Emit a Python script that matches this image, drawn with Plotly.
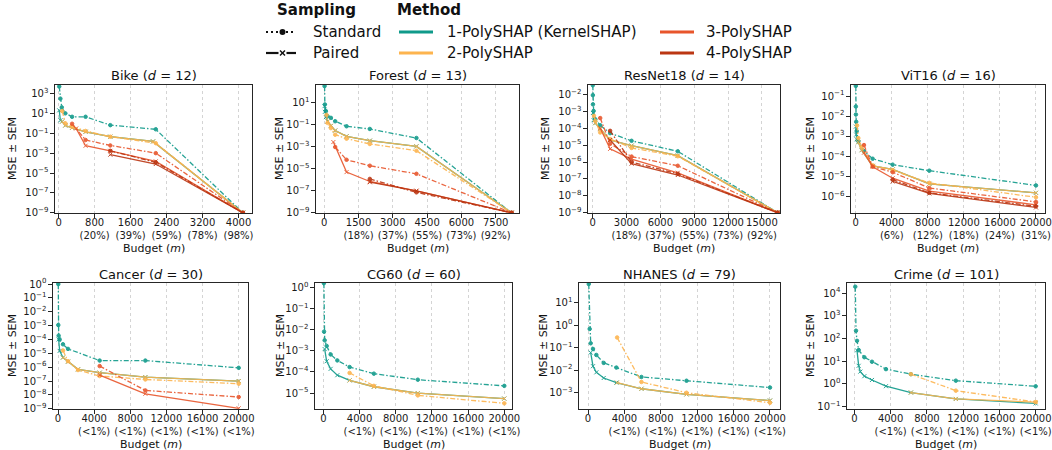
import plotly.graph_objects as go

# ---------------- data ----------------
# Bike (d=12)
bike_k1_std_x = [14, 40, 70, 150, 300, 600, 1150, 2160, 4096]
bike_k1_std_y = [5000, 300, 40, 10, 4.5, 4.5, 0.65, 0.25, 1e-9]
bike_k1_pair_x = [14, 40, 80, 150, 300, 600, 1150, 2100, 4096]
bike_k1_pair_y = [20, 2, 1.5, 0.6, 0.35, 0.14, 0.045, 0.015, 1e-9]
bike_k2_std_x = [80, 150, 300, 600, 1150, 2160, 4096]
bike_k2_std_y = [17, 1.0, 0.47, 0.17, 0.045, 0.01, 1e-9]
bike_k2_pair_x = [80, 150, 300, 600, 1150, 2100, 4096]
bike_k2_pair_y = [1.5, 0.6, 0.35, 0.14, 0.045, 0.015, 1e-9]
bike_k3_std_x = [300, 600, 1150, 2160, 4096]
bike_k3_std_y = [0.9, 0.021, 0.0059, 0.001, 1e-9]
bike_k3_pair_x = [390, 600, 1150, 2160, 4096]
bike_k3_pair_y = [0.3, 0.0055, 0.0017, 1.5e-4, 1e-9]
bike_k4_std_x = [1150, 2160, 4096]
bike_k4_std_y = [0.0017, 1.2e-4, 1e-9]
bike_k4_pair_x = [1150, 2160, 4096]
bike_k4_pair_y = [7e-4, 8e-5, 1e-9]

# Forest (d=13)
forest_k1_std_x = [15, 29, 73, 146, 291, 480, 976, 1995, 4033, 8192]
forest_k1_std_y = [330, 7.1, 1.74, 0.6, 0.43, 0.21, 0.074, 0.042, 0.0063, 1e-9]
forest_k1_pair_x = [15, 29, 73, 146, 291, 480, 976, 1995, 4033, 8192]
forest_k1_pair_y = [5, 1.5, 0.5, 0.2, 0.08, 0.03, 0.009, 0.0036, 0.0011, 1e-9]
forest_k2_std_x = [100, 146, 291, 480, 976, 1995, 4033, 8192]
forest_k2_std_y = [0.8, 0.15, 0.05, 0.0126, 0.0055, 0.0018, 0.00044, 1e-9]
forest_k2_pair_x = [146, 291, 480, 976, 1995, 4033, 8192]
forest_k2_pair_y = [0.2, 0.08, 0.03, 0.009, 0.0036, 0.0011, 1e-9]
forest_k3_std_x = [480, 976, 1995, 4033, 8192]
forest_k3_std_y = [9.5e-4, 6.6e-5, 1.9e-5, 3.5e-6, 1e-9]
forest_k3_pair_x = [400, 976, 1995, 4033, 8192]
forest_k3_pair_y = [2.7e-3, 5e-6, 7e-7, 1e-7, 1e-9]
forest_k4_std_x = [1995, 4033, 8192]
forest_k4_std_y = [1.2e-6, 7.2e-8, 1e-9]
forest_k4_pair_x = [1995, 4033, 8192]
forest_k4_pair_y = [6e-7, 1e-7, 1e-9]

# ResNet18 (d=14)
resnet_k1_std_x = [15, 20, 29, 88, 234, 672, 1550, 3450, 7544, 16384]
resnet_k1_std_y = [0.035, 0.0091, 0.0026, 0.00105, 3.4e-4, 1.5e-4, 5.1e-5, 1.8e-5, 4.3e-6, 1e-9]
resnet_k1_pair_x = [29, 88, 234, 672, 1550, 3450, 7544, 16384]
resnet_k1_pair_y = [8e-4, 3e-4, 2e-4, 8.9e-5, 2e-5, 9.3e-6, 2.4e-6, 1e-9]
resnet_k2_std_x = [120, 234, 672, 1550, 3450, 7544, 16384]
resnet_k2_std_y = [5.4e-4, 2.7e-4, 5.6e-5, 2.3e-5, 6.8e-6, 2.2e-6, 1e-9]
resnet_k2_pair_x = [234, 672, 1550, 3450, 7544, 16384]
resnet_k2_pair_y = [2e-4, 8.9e-5, 2e-5, 9.3e-6, 2.4e-6, 1e-9]
resnet_k3_std_x = [672, 1550, 3450, 7544, 16384]
resnet_k3_std_y = [4e-4, 1.2e-5, 2.1e-6, 6e-7, 1e-9]
resnet_k3_pair_x = [672, 1550, 3450, 7544, 16384]
resnet_k3_pair_y = [1e-4, 6e-6, 1.5e-6, 2.3e-7, 1e-9]
resnet_k4_std_x = [1550, 3450, 7544, 16384]
resnet_k4_std_y = [7e-5, 1.0e-6, 2.0e-7, 1e-9]
resnet_k4_pair_x = [1550, 3450, 7544, 16384]
resnet_k4_pair_y = [2e-5, 8e-7, 1.7e-7, 1e-9]

# ViT16 (d=16)
vit_k1_std_x = [17, 20, 30, 60, 111, 296, 924, 1885, 4104, 8170, 20000]
vit_k1_std_y = [0.32, 0.03, 0.012, 0.0052, 0.0018, 5.6e-4, 1.8e-4, 7.5e-5, 3.8e-5, 1.9e-5, 3.5e-6]
vit_k1_pair_x = [30, 60, 111, 296, 665, 1885, 4104, 8170, 20000]
vit_k1_pair_y = [0.003, 0.0012, 7e-4, 5e-4, 2e-4, 3.3e-5, 2.2e-5, 4.2e-6, 1.5e-6]
vit_k2_std_x = [150, 296, 665, 1885, 4104, 8170, 20000]
vit_k2_std_y = [0.0034, 8e-4, 3e-4, 3.5e-5, 2e-5, 4.7e-6, 9e-7]
vit_k2_pair_x = [296, 665, 1885, 4104, 8170, 20000]
vit_k2_pair_y = [5e-4, 2e-4, 3.3e-5, 2.2e-5, 4.2e-6, 1.5e-6]
vit_k3_std_x = [924, 1885, 4104, 8170, 20000]
vit_k3_std_y = [3.6e-4, 3e-5, 1.6e-5, 2.6e-6, 5.3e-7]
vit_k3_pair_x = [924, 1885, 4104, 8170, 20000]
vit_k3_pair_y = [1.5e-4, 3e-5, 8e-6, 1.8e-6, 3.8e-7]
vit_k4_std_x = [4104, 8170, 20000]
vit_k4_std_y = [6.8e-6, 1.5e-6, 3.2e-7]
vit_k4_pair_x = [4104, 8170, 20000]
vit_k4_pair_y = [5.5e-6, 1.4e-6, 2.8e-7]

# Cancer (d=30)
cancer_k1_std_x = [32, 35, 74, 185, 553, 1107, 4612, 9668, 20000]
cancer_k1_std_y = [1.0, 1.1e-3, 1.9e-4, 1e-4, 4.5e-5, 2.1e-5, 3e-6, 3e-6, 9e-7]
cancer_k1_pair_x = [74, 185, 553, 1107, 2214, 4612, 9668, 20000]
cancer_k1_pair_y = [1e-4, 1.5e-5, 5e-6, 2.5e-6, 7e-7, 4e-7, 1.9e-7, 1e-7]
cancer_k2_std_x = [553, 1107, 2214, 4612, 9668, 20000]
cancer_k2_std_y = [1.6e-5, 2.7e-6, 6.2e-7, 2.3e-7, 1.3e-7, 6.4e-8]
cancer_k2_pair_x = [553, 1107, 2214, 4612, 9668, 20000]
cancer_k2_pair_y = [5e-6, 2.5e-6, 7e-7, 4e-7, 1.9e-7, 1e-7]
cancer_k3_std_x = [4612, 9668, 20000]
cancer_k3_std_y = [1.2e-6, 2.1e-8, 7e-9]
cancer_k3_pair_x = [4612, 9668, 20000]
cancer_k3_pair_y = [2.7e-7, 1.2e-8, 1.07e-9]

# CG60 (d=60)
cg60_k1_std_x = [62, 80, 150, 370, 809, 1544, 2904, 5588, 10440, 20000]
cg60_k1_std_y = [1.55, 0.008, 0.0031, 0.0017, 6.7e-4, 3.5e-4, 1.7e-4, 8.3e-5, 4.3e-5, 2.2e-5]
cg60_k1_pair_x = [150, 370, 809, 1544, 2904, 5588, 10440, 20000]
cg60_k1_pair_y = [1.2e-3, 3.2e-4, 1.4e-4, 7e-5, 4e-5, 2e-5, 1e-5, 5.5e-6]
cg60_k2_std_x = [2904, 5588, 10440, 20000]
cg60_k2_std_y = [9e-5, 2.2e-5, 7.8e-6, 3.3e-6]
cg60_k2_pair_x = [2904, 5588, 10440, 20000]
cg60_k2_pair_y = [4e-5, 2e-5, 1e-5, 5.5e-6]

# NHANES (d=79)
nhanes_k1_std_x = [81, 184, 294, 550, 917, 1725, 3120, 5872, 10826, 20000]
nhanes_k1_std_y = [65, 0.67, 0.155, 0.087, 0.047, 0.021, 0.013, 0.005, 0.0034, 0.0017]
nhanes_k1_pair_x = [294, 550, 917, 1725, 3120, 5872, 10826, 20000]
nhanes_k1_pair_y = [0.06, 0.015, 0.008, 0.0045, 0.0028, 0.0015, 8.5e-4, 4.5e-4]
nhanes_k2_std_x = [3200, 5872, 10826, 20000]
nhanes_k2_std_y = [0.28, 0.003, 1e-3, 3.6e-4]
nhanes_k2_pair_x = [3200, 5872, 10826, 20000]
nhanes_k2_pair_y = [0.0028, 0.0015, 8.5e-4, 4.5e-4]

# Crime (d=101)
crime_k1_std_x = [103, 184, 294, 477, 1101, 1945, 3486, 6239, 11193, 20000]
crime_k1_std_y = [1.9e4, 219, 79, 31, 15, 9.5, 4.5, 2.7, 1.4, 0.79]
crime_k1_pair_x = [294, 477, 660, 1101, 1945, 3486, 6239, 11193, 20000]
crime_k1_pair_y = [30, 6.3, 3.5, 2.2, 1.5, 0.8, 0.42, 0.22, 0.14]
crime_k2_std_x = [6239, 11193, 20000]
crime_k2_std_y = [2.7, 0.51, 0.16]
crime_k2_pair_x = [6239, 11193, 20000]
crime_k2_pair_y = [0.42, 0.22, 0.16]

# tick labels
bike_xticks = [0, 800, 1600, 2400, 3200, 4000]
bike_xpct = ["", "20%", "39%", "59%", "78%", "98%"]
forest_xticks = [0, 1500, 3000, 4500, 6000, 7500]
forest_xpct = ["", "18%", "37%", "55%", "73%", "92%"]
resnet_xticks = [0, 3000, 6000, 9000, 12000, 15000]
resnet_xpct = ["", "18%", "37%", "55%", "73%", "92%"]
big_xticks = [0, 4000, 8000, 12000, 16000, 20000]
vit_xpct = ["", "6%", "12%", "18%", "24%", "31%"]
small_xpct = ["", "<1%", "<1%", "<1%", "<1%", "<1%"]

bike_yexp = [-9, -7, -5, -3, -1, 1, 3]
forest_yexp = [-9, -7, -5, -3, -1, 1]
resnet_yexp = [-9, -8, -7, -6, -5, -4, -3, -2]
vit_yexp = [-6, -5, -4, -3, -2, -1]
cancer_yexp = [-9, -8, -7, -6, -5, -4, -3, -2, -1, 0]
cg60_yexp = [-5, -4, -3, -2, -1, 0]
nhanes_yexp = [-3, -2, -1, 0, 1]
crime_yexp = [-1, 0, 1, 2, 3, 4]

methods = ["1-PolySHAP (KernelSHAP)", "2-PolySHAP", "3-PolySHAP", "4-PolySHAP"]
COLORS = {1: "#0f9a8a", 2: "#fdb44e", 3: "#e8552b", 4: "#bb3613"}

# ---------------- figure construction ----------------
W, H = 1052, 450
FONT = "DejaVu Sans"


def px(x):
    return x / W


def py(y):
    return 1 - y / H


def S(k, s, x, y):
    return dict(k=k, s=s, x=x, y=y)


panels = [
    dict(title="Bike (<i>d</i> = 12)", box=(55, 252, 85, 213), xr=[-80, 4300], yr=[-9.02, 3.85],
         xt=bike_xticks, xp=bike_xpct, ye=bike_yexp, ylx=12,
         series=[S(1, "std", bike_k1_std_x, bike_k1_std_y), S(1, "pair", bike_k1_pair_x, bike_k1_pair_y),
                 S(2, "std", bike_k2_std_x, bike_k2_std_y), S(2, "pair", bike_k2_pair_x, bike_k2_pair_y),
                 S(3, "std", bike_k3_std_x, bike_k3_std_y), S(3, "pair", bike_k3_pair_x, bike_k3_pair_y),
                 S(4, "std", bike_k4_std_x, bike_k4_std_y), S(4, "pair", bike_k4_pair_x, bike_k4_pair_y)]),
    dict(title="Forest (<i>d</i> = 13)", box=(316, 519, 85, 213), xr=[-360, 8520], yr=[-9.02, 2.62],
         xt=forest_xticks, xp=forest_xpct, ye=forest_yexp, ylx=279,
         series=[S(1, "std", forest_k1_std_x, forest_k1_std_y), S(1, "pair", forest_k1_pair_x, forest_k1_pair_y),
                 S(2, "std", forest_k2_std_x, forest_k2_std_y), S(2, "pair", forest_k2_pair_x, forest_k2_pair_y),
                 S(3, "std", forest_k3_std_x, forest_k3_std_y), S(3, "pair", forest_k3_pair_x, forest_k3_pair_y),
                 S(4, "std", forest_k4_std_x, forest_k4_std_y), S(4, "pair", forest_k4_pair_x, forest_k4_pair_y)]),
    dict(title="ResNet18 (<i>d</i> = 14)", box=(588, 780, 85, 213), xr=[-410, 16600], yr=[-9.02, -1.44],
         xt=resnet_xticks, xp=resnet_xpct, ye=resnet_yexp, ylx=545,
         series=[S(1, "std", resnet_k1_std_x, resnet_k1_std_y), S(1, "pair", resnet_k1_pair_x, resnet_k1_pair_y),
                 S(2, "std", resnet_k2_std_x, resnet_k2_std_y), S(2, "pair", resnet_k2_pair_x, resnet_k2_pair_y),
                 S(3, "std", resnet_k3_std_x, resnet_k3_std_y), S(3, "pair", resnet_k3_pair_x, resnet_k3_pair_y),
                 S(4, "std", resnet_k4_std_x, resnet_k4_std_y), S(4, "pair", resnet_k4_pair_x, resnet_k4_pair_y)]),
    dict(title="ViT16 (<i>d</i> = 16)", box=(851, 1045, 85, 213), xr=[-517, 21000], yr=[-6.83, -0.45],
         xt=big_xticks, xp=vit_xpct, ye=vit_yexp, ylx=810,
         series=[S(1, "std", vit_k1_std_x, vit_k1_std_y), S(1, "pair", vit_k1_pair_x, vit_k1_pair_y),
                 S(2, "std", vit_k2_std_x, vit_k2_std_y), S(2, "pair", vit_k2_pair_x, vit_k2_pair_y),
                 S(3, "std", vit_k3_std_x, vit_k3_std_y), S(3, "pair", vit_k3_pair_x, vit_k3_pair_y),
                 S(4, "std", vit_k4_std_x, vit_k4_std_y), S(4, "pair", vit_k4_pair_x, vit_k4_pair_y)]),
    dict(title="Cancer (<i>d</i> = 30)", box=(53, 248, 283, 409), xr=[-553, 21030], yr=[-9.02, 0.08],
         xt=big_xticks, xp=small_xpct, ye=cancer_yexp, ylx=12,
         series=[S(1, "std", cancer_k1_std_x, cancer_k1_std_y), S(1, "pair", cancer_k1_pair_x, cancer_k1_pair_y),
                 S(2, "std", cancer_k2_std_x, cancer_k2_std_y), S(2, "pair", cancer_k2_pair_x, cancer_k2_pair_y),
                 S(3, "std", cancer_k3_std_x, cancer_k3_std_y), S(3, "pair", cancer_k3_pair_x, cancer_k3_pair_y)]),
    dict(title="CG60 (<i>d</i> = 60)", box=(315, 512, 283, 409), xr=[-920, 20850], yr=[-5.75, 0.2],
         xt=big_xticks, xp=small_xpct, ye=cg60_yexp, ylx=280,
         series=[S(1, "std", cg60_k1_std_x, cg60_k1_std_y), S(1, "pair", cg60_k1_pair_x, cg60_k1_pair_y),
                 S(2, "std", cg60_k2_std_x, cg60_k2_std_y), S(2, "pair", cg60_k2_pair_x, cg60_k2_pair_y)]),
    dict(title="NHANES (<i>d</i> = 79)", box=(579, 780, 283, 409), xr=[-990, 21100], yr=[-3.72, 1.86],
         xt=big_xticks, xp=small_xpct, ye=nhanes_yexp, ylx=543,
         series=[S(1, "std", nhanes_k1_std_x, nhanes_k1_std_y), S(1, "pair", nhanes_k1_pair_x, nhanes_k1_pair_y),
                 S(2, "std", nhanes_k2_std_x, nhanes_k2_std_y), S(2, "pair", nhanes_k2_pair_x, nhanes_k2_pair_y)]),
    dict(title="Crime (<i>d</i> = 101)", box=(847, 1045, 283, 409), xr=[-810, 21030], yr=[-1.1, 4.44],
         xt=big_xticks, xp=small_xpct, ye=crime_yexp, ylx=810,
         series=[S(1, "std", crime_k1_std_x, crime_k1_std_y), S(1, "pair", crime_k1_pair_x, crime_k1_pair_y),
                 S(2, "std", crime_k2_std_x, crime_k2_std_y), S(2, "pair", crime_k2_pair_x, crime_k2_pair_y)]),
]

fig = go.Figure()
annotations = []
shapes = []
layout_axes = {}

for i, p in enumerate(panels, start=1):
    xa = "x" if i == 1 else f"x{i}"
    ya = "y" if i == 1 else f"y{i}"
    xkey = "xaxis" if i == 1 else f"xaxis{i}"
    ykey = "yaxis" if i == 1 else f"yaxis{i}"
    l, r, t, b = p["box"]
    for srs in sorted(p["series"], key=lambda s: (s["k"], 0 if s["s"] == "std" else 1)):
        std = srs["s"] == "std"
        fig.add_trace(go.Scatter(
            x=srs["x"], y=srs["y"], xaxis=xa, yaxis=ya, mode="lines+markers",
            line=dict(color=COLORS[srs["k"]], width=1.3, dash="5px,2px,1.5px,2px" if std else "solid"),
            marker=dict(symbol="circle" if std else "x-thin", size=3.5 if std else 4,
                        color=COLORS[srs["k"]], line=dict(width=1, color=COLORS[srs["k"]])),
            opacity=0.9, showlegend=False, cliponaxis=True, hoverinfo="skip"))
    ticktext = [str(v) if pc == "" else f"{v}<br>({pc})" for v, pc in zip(p["xt"], p["xp"])]
    layout_axes[xkey] = dict(
        domain=[px(l), px(r)], anchor=ya, range=p["xr"], tickvals=p["xt"], ticktext=ticktext,
        automargin=False, tickangle=0, ticklabelstandoff=-4,
        showgrid=True, griddash="dot", gridcolor="#d4d4d4", gridwidth=0.8, zeroline=False,
        showline=True, linecolor="#262626", linewidth=1.2, mirror=True,
        ticks="outside", ticklen=3.5, tickwidth=1, tickcolor="#262626",
        tickfont=dict(family=FONT, size=10, color="#1a1a1a"))
    layout_axes[ykey] = dict(
        domain=[py(b), py(t)], anchor=xa, type="log", range=p["yr"],
        automargin=False, tickangle=0,
        tickvals=[10.0 ** e for e in p["ye"]],
        ticktext=[f"10<sup>{str(e).replace('-', '−')}</sup>" for e in p["ye"]],
        showgrid=False, zeroline=False,
        showline=True, linecolor="#262626", linewidth=1.2, mirror=True,
        ticks="outside", ticklen=3.5, tickwidth=1, tickcolor="#262626",
        tickfont=dict(family=FONT, size=10, color="#1a1a1a"))
    annotations.append(dict(x=px((l + r) / 2), y=py(t - 9), xref="paper", yref="paper",
                            text=p["title"], showarrow=False, xanchor="center", yanchor="middle",
                            font=dict(family=FONT, size=13, color="#111")))
    annotations.append(dict(x=px((l + r) / 2), y=py(b + 35), xref="paper", yref="paper",
                            text="Budget (<i>m</i>)", showarrow=False, xanchor="center", yanchor="middle",
                            font=dict(family=FONT, size=11, color="#111")))
    annotations.append(dict(x=px(p["ylx"]), y=py((t + b) / 2), xref="paper", yref="paper",
                            text="MSE ± SEM", showarrow=False, textangle=-90,
                            xanchor="center", yanchor="middle",
                            font=dict(family=FONT, size=11, color="#111")))

# ---------------- custom legend ----------------
LF = dict(family=FONT, size=15, color="#111")
annotations.append(dict(x=px(316), y=py(10), xref="paper", yref="paper", text="<b>Sampling</b>",
                        showarrow=False, xanchor="center", yanchor="middle", font=LF))
annotations.append(dict(x=px(429), y=py(10), xref="paper", yref="paper", text="<b>Method</b>",
                        showarrow=False, xanchor="center", yanchor="middle", font=LF))
for txt, xx, yy in [("Standard", 311, 32), ("Paired", 311, 53),
                    (methods[0], 445, 32), (methods[1], 445, 53),
                    (methods[2], 704, 32), (methods[3], 704, 53)]:
    annotations.append(dict(x=px(xx), y=py(yy), xref="paper", yref="paper", text=txt,
                            showarrow=False, xanchor="left", yanchor="middle", font=LF))

shapes.append(dict(type="line", xref="paper", yref="paper", x0=px(266), x1=px(296), y0=py(32), y1=py(32),
                   line=dict(color="#111", width=2.2, dash="2px,3px")))
shapes.append(dict(type="circle", xref="paper", yref="paper", x0=px(279.5), x1=px(285.5),
                   y0=py(35), y1=py(29), fillcolor="#111", line=dict(color="#111", width=0)))
shapes.append(dict(type="line", xref="paper", yref="paper", x0=px(266), x1=px(296), y0=py(53), y1=py(53),
                   line=dict(color="#111", width=2.2)))
shapes.append(dict(type="rect", xref="paper", yref="paper", x0=px(278.5), x1=px(286.5),
                   y0=py(56), y1=py(50), fillcolor="white", line=dict(width=0)))
shapes.append(dict(type="line", xref="paper", yref="paper", x0=px(280), x1=px(285), y0=py(50.5), y1=py(55.5),
                   line=dict(color="#111", width=1.4)))
shapes.append(dict(type="line", xref="paper", yref="paper", x0=px(280), x1=px(285), y0=py(55.5), y1=py(50.5),
                   line=dict(color="#111", width=1.4)))
for k, (x0, yy) in zip([1, 2, 3, 4], [(399, 32), (399, 53), (660, 32), (660, 53)]):
    shapes.append(dict(type="line", xref="paper", yref="paper", x0=px(x0), x1=px(x0 + 34),
                       y0=py(yy), y1=py(yy), line=dict(color=COLORS[k], width=3)))

fig.update_layout(
    width=W, height=H, margin=dict(l=0, r=0, t=0, b=0, autoexpand=False),
    paper_bgcolor="white", plot_bgcolor="white",
    font=dict(family=FONT, size=10, color="#111"),
    showlegend=False, annotations=annotations, shapes=shapes, **layout_axes)

fig.write_html("out.html", config={"displayModeBar": False},
               post_script="document.body.style.margin='0';document.body.style.overflow='hidden';")
